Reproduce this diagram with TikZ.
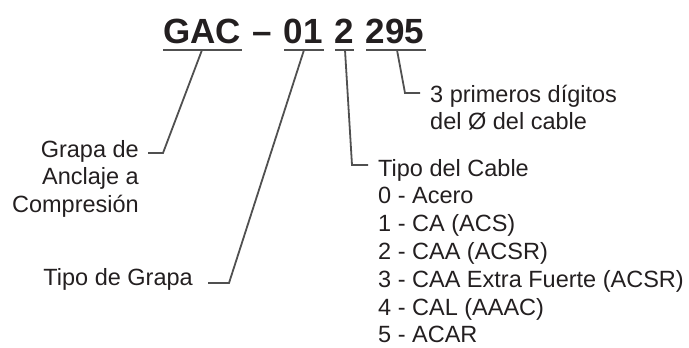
\documentclass[tikz,border=0pt]{standalone}
\usepackage{fontspec}
\setmainfont{Liberation Sans}
\definecolor{txt}{HTML}{231F20}
\definecolor{ln}{HTML}{505050}
\begin{document}
\begin{tikzpicture}[x=1pt,y=-1pt,
  lbl/.style={inner sep=0pt, font=\fontsize{23.5}{27.8}\selectfont, text=txt},
  ttl/.style={inner sep=0pt, font=\fontsize{35}{40}\selectfont\bfseries, text=txt},
  uline/.style={draw=ln, line width=2.3pt},
  conn/.style={draw=ln, line width=1.8pt, line join=miter}]
\useasboundingbox (0,0) rectangle (689,348);
% title
\node[ttl, anchor=base west] (tgac) at (163,43) {GAC};
\node[ttl, anchor=base west] (tdash) at (252,43) {–};
\node[ttl, anchor=base west] (t01) at (283.5,43) {01};
\node[ttl, anchor=base west] (t2) at (334,43) {2};
\node[ttl, anchor=base west] (t295) at (365.5,43) {295};
% underlines
\coordinate (ua1) at (163,50); \coordinate (ua2) at (242,50);
\coordinate (ub1) at (284,50); \coordinate (ub2) at (324,50);
\coordinate (uc1) at (335,50); \coordinate (uc2) at (354,50);
\coordinate (ud1) at (366,50); \coordinate (ud2) at (426,50);
\draw[uline] (ua1) -- (ua2);
\draw[uline] (ub1) -- (ub2);
\draw[uline] (uc1) -- (uc2);
\draw[uline] (ud1) -- (ud2);
% labels (base anchor = baseline of the last line)
\node[lbl, anchor=base east, align=right] (lgrapa) at (139,212.6) {Grapa de\\Anclaje a\\Compresión};
\node[lbl, anchor=base east] (ltipo) at (193,285) {Tipo de Grapa};
\node[lbl, anchor=base west, align=left] (ldig) at (430,129.8) {3 primeros dígitos\\del Ø del cable};
\node[lbl, anchor=base west, align=left] (lcable) at (378,342.8) {Tipo del Cable\\0 - Acero\\1 - CA (ACS)\\2 - CAA (ACSR)\\3 - CAA Extra Fuerte (ACSR)\\4 - CAL (AAAC)\\5 - ACAR};
% connectors
\coordinate (ma) at (202,50); \coordinate (ka) at (163,153); \coordinate (ea) at (148,153);
\coordinate (mb) at (304,50); \coordinate (kb) at (229,283); \coordinate (eb) at (208,283);
\coordinate (mc) at (345,50); \coordinate (kc) at (352,165); \coordinate (ec) at (368,165);
\coordinate (md) at (397,50); \coordinate (kd) at (405,93); \coordinate (ed) at (420,93);
\draw[conn] (ma) -- (ka) -- (ea);
\draw[conn] (mb) -- (kb) -- (eb);
\draw[conn] (mc) -- (kc) -- (ec);
\draw[conn] (md) -- (kd) -- (ed);
\end{tikzpicture}
\end{document}
